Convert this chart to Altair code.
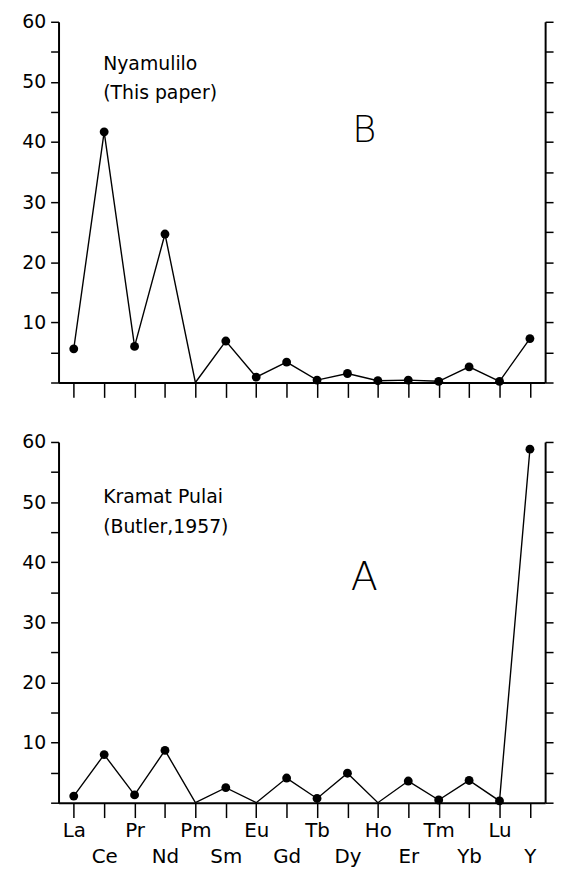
import altair as alt
import pandas as pd

elements = ["La", "Ce", "Pr", "Nd", "Pm", "Sm", "Eu", "Gd", "Tb", "Dy", "Ho", "Er", "Tm", "Yb", "Lu", "Y"]
nyamulilo = [5.6, 41.7, 6.0, 24.7, 0, 6.9, 0.9, 3.4, 0.4, 1.5, 0.3, 0.4, 0.2, 2.6, 0.2, 7.3]
kramat_pulai = [1.1, 8.0, 1.3, 8.7, 0, 2.5, 0, 4.1, 0.7, 4.9, 0, 3.6, 0.45, 3.7, 0.3, 58.8]
y_ticks = list(range(0, 65, 5))
second_row = elements[1::2]

# annotation texts (anchored in data coordinates)
b_notes = ["Nyamulilo", "(This paper)"]
b_note_y = [53.0, 48.1]
a_notes = ["Kramat Pulai", "(Butler,1957)"]
a_note_y = [50.9, 45.9]
b_letter_y = 41.9
a_letter_y = 37.3

FONT = "DejaVu Sans"
W, H = 491, 364

row_list = "[" + ",".join("'%s'" % e for e in second_row) + "]"


def x_enc(show_labels):
    return alt.X(
        "element:N",
        sort=elements,
        scale=alt.Scale(type="point", padding=0.5),
        axis=alt.Axis(
            title=None,
            orient="bottom",
            labels=show_labels,
            labelAngle=0,
            labelFont=FONT,
            labelFontSize=20,
            labelColor="black",
            labelExpr="indexof(%s, datum.label) >= 0 ? ['', datum.label] : datum.label" % row_list,
            labelLineHeight=26,
            labelBaseline="top",
            labelPadding=3,
            labelOverlap=False,
            labelFlush=False,
            tickSize=15,
            tickWidth=1.5,
            tickColor="black",
            domainColor="black",
            domainWidth=2,
            grid=False,
        ),
    )


def y_scale():
    return alt.Scale(domain=[0, 60], nice=False, zero=True)


def panel(values, notes, note_y, letter, letter_y, letter_size, show_labels):
    df = pd.DataFrame({"element": elements, "value": values})
    line = alt.Chart(df).mark_line(color="black", strokeWidth=1.4).encode(
        x=x_enc(show_labels),
        y=alt.Y(
            "value:Q",
            scale=y_scale(),
            axis=alt.Axis(
                title=None,
                orient="left",
                values=y_ticks,
                labelExpr="datum.value % 10 == 0 && datum.value > 0 ? datum.label : ''",
                labelFont=FONT,
                labelFontSize=19,
                labelColor="black",
                labelPadding=5,
                tickSize=8,
                tickWidth=1.5,
                tickColor="black",
                domainColor="black",
                domainWidth=2,
                grid=False,
            ),
        ),
    )
    pts = alt.Chart(df).transform_filter("datum.value > 0").mark_circle(
        color="black", size=80, opacity=1
    ).encode(
        x=x_enc(show_labels),
        y=alt.Y(
            "value:Q",
            scale=y_scale(),
            axis=alt.Axis(
                title=None,
                orient="right",
                values=y_ticks,
                labels=False,
                tickSize=8,
                tickWidth=1.5,
                tickColor="black",
                domainColor="black",
                domainWidth=2,
                grid=False,
            ),
        ),
    )
    note_df = pd.DataFrame({"element": ["Ce"] * len(notes), "value": note_y, "text": notes})
    note = alt.Chart(note_df).mark_text(
        align="left", baseline="middle", font=FONT, fontSize=19, color="black", dx=-1
    ).encode(
        x=x_enc(show_labels),
        y=alt.Y("value:Q", scale=y_scale(), axis=None),
        text="text:N",
    )
    let_df = pd.DataFrame({"element": ["Dy"], "value": [letter_y], "text": [letter]})
    let = alt.Chart(let_df).mark_text(
        align="center", baseline="middle", font=FONT, fontSize=letter_size,
        fontWeight=200, color="black", dx=17
    ).encode(
        x=x_enc(show_labels),
        y=alt.Y("value:Q", scale=y_scale(), axis=None),
        text="text:N",
    )
    return alt.layer(line, pts, note, let).resolve_axis(y="independent").properties(
        width=W, height=H
    )


top = panel(nyamulilo, b_notes, b_note_y, "B", b_letter_y, 37, False)
bottom = panel(kramat_pulai, a_notes, a_note_y, "A", a_letter_y, 40, True)

chart = alt.vconcat(top, bottom, spacing=35).properties(
    padding={"left": 13, "top": 1, "right": 5, "bottom": 0},
    background="white",
).configure_view(stroke=None)

chart.save("out.html", embed_options={"renderer": "svg", "actions": False})
